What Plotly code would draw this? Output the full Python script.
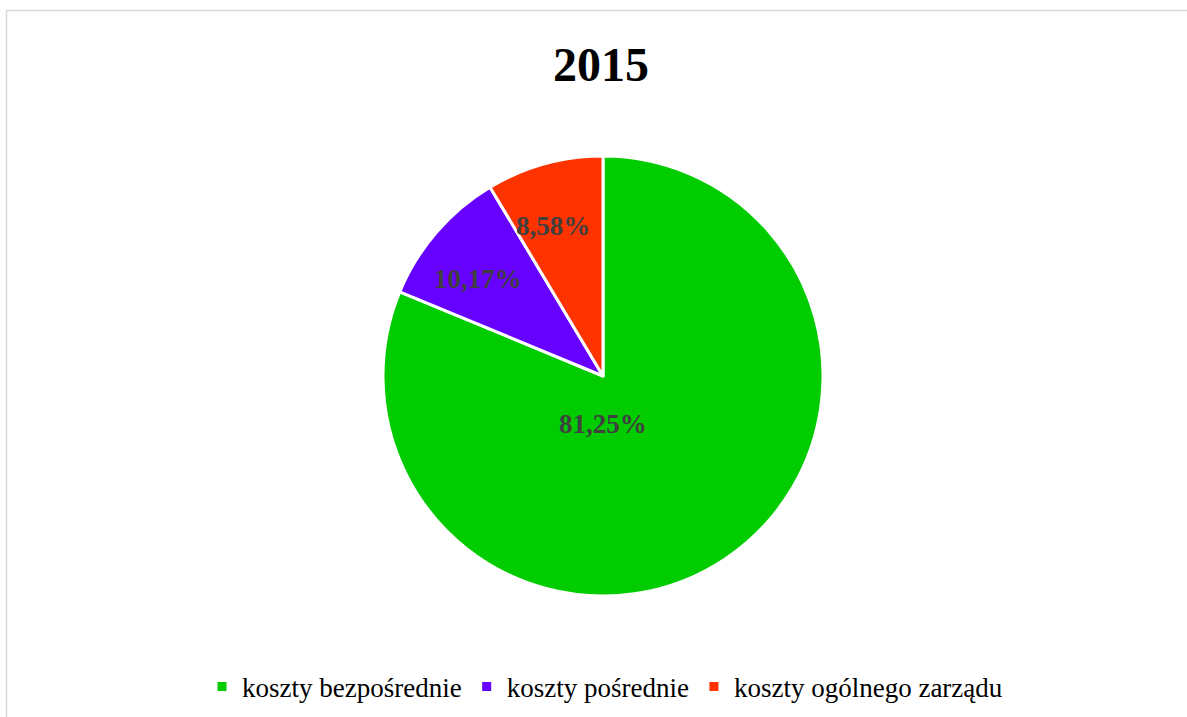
import math
import plotly.graph_objects as go

categories = ["koszty bezpośrednie", "koszty pośrednie", "koszty ogólnego zarządu"]
values = [81.25, 10.17, 8.58]
labels_text = ["81,25%", "10,17%", "8,58%"]
colors = ["#00CC00", "#6600FF", "#FF3300"]
title_text = "2015"

W, H = 1187, 717
# pie geometry (pixels)
CX, CY, R = 603, 376, 220
LABEL_FONT = dict(family="Liberation Serif", size=27, color="#404040", weight="bold")

fig = go.Figure(go.Pie(
    labels=categories,
    values=values,
    textinfo="none",
    sort=False,
    direction="clockwise",
    rotation=0,
    marker=dict(colors=colors, line=dict(color="white", width=3)),
    domain=dict(x=[(CX - R) / W, (CX + R) / W], y=[1 - (CY + R) / H, 1 - (CY - R) / H]),
    hoverinfo="label+percent",
))

# data labels placed from slice angles
total = sum(values)
annotations = []
cum = 0.0
for v, t in zip(values, labels_text):
    mid = (cum + v / 2) / total * 360.0
    cum += v
    if v / total > 0.5:
        ang, rf = 180.0, 0.22
    else:
        ang, rf = mid - 3.0, 0.72
    px = CX + rf * R * math.sin(math.radians(ang))
    py = CY - rf * R * math.cos(math.radians(ang))
    annotations.append(dict(text=t, x=px / W, y=1 - py / H, xref="paper", yref="paper",
                            xanchor="center", yanchor="middle", showarrow=False,
                            font=LABEL_FONT))

fig.update_layout(
    width=W, height=H,
    margin=dict(l=0, r=0, t=0, b=0),
    paper_bgcolor="white",
    title=dict(text="<b>" + title_text + "</b>", x=601 / W, xanchor="center",
               y=1 - 64 / H, yanchor="middle",
               font=dict(family="Liberation Serif", size=48, color="black")),
    legend=dict(orientation="h", x=605 / W, xanchor="center", y=1 - 687 / H, yanchor="middle",
                font=dict(family="Liberation Serif", size=27, color="black"),
                itemwidth=30, traceorder="normal"),
    annotations=annotations,
    shapes=[dict(type="rect", xref="paper", yref="paper",
                 x0=6.5 / W, x1=1.05, y0=-0.05, y1=1 - 10.5 / H,
                 line=dict(color="#D9D9D9", width=1.5), fillcolor="rgba(0,0,0,0)")],
)

fig.write_html("out.html", config={"displayModeBar": False},
               post_script="document.body.style.margin='0';document.body.style.overflow='hidden';")
